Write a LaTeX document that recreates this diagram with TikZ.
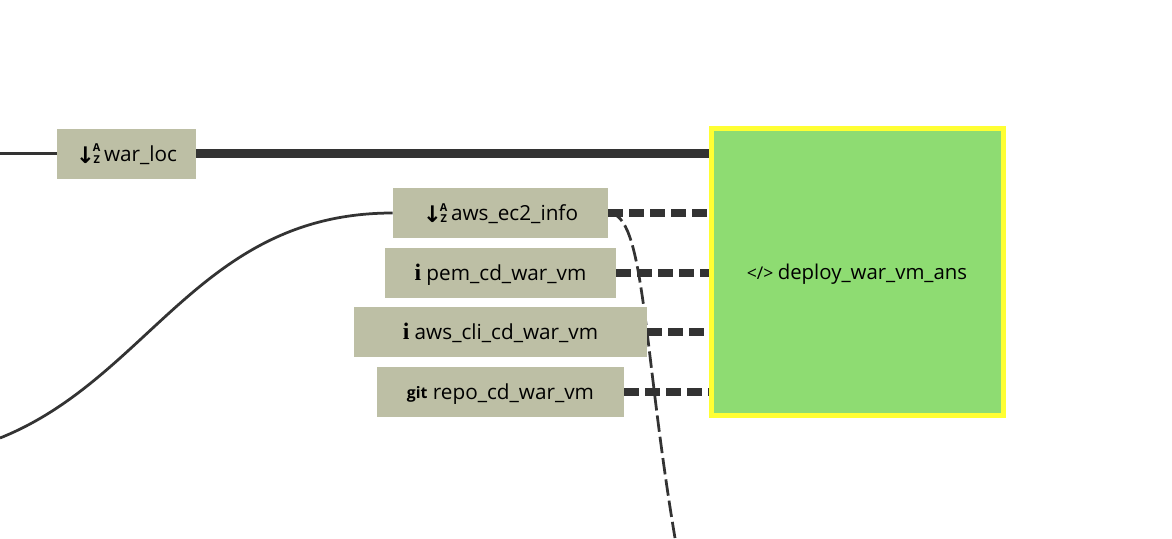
\documentclass[tikz,border=0pt]{standalone}
\usepackage{fontspec}
\setmainfont{Open Sans}
\newfontfamily\iconfont{DejaVu Sans}
\newfontfamily\slabfont{Liberation Serif}
\usetikzlibrary{positioning,calc,backgrounds}
\definecolor{tfvar}{RGB}{189,191,165}
\definecolor{tfres}{RGB}{142,220,114}
\definecolor{tfjaune}{RGB}{255,255,51}
\definecolor{tfgris}{RGB}{51,51,51}
% icons in front of the labels
\newcommand{\icosort}{{\iconfont\bfseries\fontsize{13}{13}\selectfont\raisebox{-1pt}{↓}}\kern-1.2pt\raisebox{-1pt}{\shortstack[c]{\fontsize{6.2}{6.2}\selectfont\bfseries A\\[-0.8pt]\fontsize{6.2}{6.2}\selectfont\bfseries Z}}\kern2pt}
\newcommand{\icoinfo}{{\slabfont\bfseries\fontsize{13.5}{13.5}\selectfont i}\kern3pt}
\newcommand{\icogit}{\raisebox{1pt}{\fontsize{9}{9}\selectfont\bfseries git}\kern3pt}
\newcommand{\icocode}{{\fontsize{10}{10}\selectfont </>}\kern2.5pt}
\begin{document}
\begin{tikzpicture}[
  var/.style={rectangle, fill=tfvar, text=black, minimum height=1cm, inner sep=0pt,
    text height=10pt, text depth=1pt, font=\fontsize{11.8}{13}\selectfont},
  res/.style={rectangle, draw=tfjaune, fill=tfres, line width=0.1cm, text=black,
    minimum width=5.84cm, minimum height=5.74cm, inner sep=0pt,
    text height=9pt, text depth=1pt, font=\fontsize{11.6}{13}\selectfont},
  thin link/.style={tfgris, line width=0.055cm},
  thick link/.style={tfgris, line width=0.17cm},
  dash link/.style={tfgris, line width=0.15cm, dash pattern=on 0.3cm off 0.12cm},
  thin dash/.style={thin link, dash pattern=on 0.33cm off 0.1cm}
]
  \useasboundingbox (0,0) rectangle (23.44,-10.76);

  % Variables
  \node[var, minimum width=2.78cm] (war_loc) at (2.53,-3.07) {\icosort war\_loc};
  \node[var, minimum width=4.30cm] (aws_ec2) at (10.01,-4.26) {\icosort aws\_ec2\_info};
  \node[var, minimum width=4.62cm] (pem) at (10.01,-5.46) {\icoinfo pem\_cd\_war\_vm};
  \node[var, minimum width=5.86cm] (aws_cli) at (10.01,-6.64) {\icoinfo aws\_cli\_cd\_war\_vm};
  \node[var, minimum width=4.94cm] (repo) at (10.01,-7.84) {\icogit repo\_cd\_war\_vm};

  % Resource
  \node[res] (deploy) at (17.14,-5.44) {\icocode deploy\_war\_vm\_ans};

  % Free ends
  \coordinate (left_a) at (0,-3.07);
  \coordinate (left_b) at (0,-8.76);
  \coordinate (bottom_c) at (13.5,-10.76);

  \begin{scope}[on background layer]
    \draw[thin link] (left_a) -- (war_loc.west);
    \draw[thin link] (aws_ec2.west) .. controls (4,-4.26) and (3,-7.56) .. (left_b);
    \draw[thin dash] (aws_ec2.east) .. controls (12.9,-4.26) and (12.85,-6.9) .. (bottom_c);
    \draw[thick link] (war_loc.east) -- (war_loc.east -| deploy.west);
    \draw[dash link] (aws_ec2.east) -- (aws_ec2.east -| deploy.west);
    \draw[dash link] (pem.east) -- (pem.east -| deploy.west);
    \draw[dash link] (aws_cli.east) -- (aws_cli.east -| deploy.west);
    \draw[dash link] (repo.east) -- (repo.east -| deploy.west);
  \end{scope}
\end{tikzpicture}
\end{document}
